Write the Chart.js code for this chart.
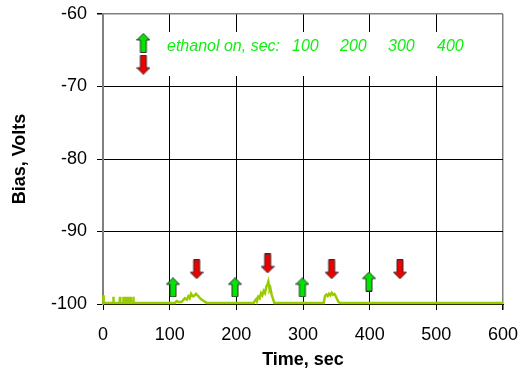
<!DOCTYPE html>
<html><head><meta charset="utf-8">
<script src="https://cdn.jsdelivr.net/npm/chart.js@4"></script>
<style>html,body{margin:0;padding:0;background:#fff}canvas{display:block}</style>
</head><body>
<canvas id="c" width="520" height="371"></canvas>
<script>
// ---- data ----
const timeSec = [0,1,15,15.5,16,25,25.5,26,30,30.5,31,34,34.5,35,37.5,38,38.5,41,41.5,42,45,45.5,46,
  108,110.5,114,118,121,123,126,128,130,132,134,135.5,137.5,139.5,141,143,145.5,148,150.5,155.5,
  226,228,230,231,233,235,237,239,241,243,245,247,248,249,250,251,253,255,257,
  331,333,335,337,339,341,343,345,347,349,351,353,355,600];
const biasVolts = [-98.8,-99.85,-99.85,-99.0,-99.85,-99.85,-99.0,-99.85,-99.85,-99.0,-99.85,-99.85,-99.0,-99.85,-99.85,-99.0,-99.85,-99.85,-99.0,-99.85,-99.85,-99.0,-99.85,
  -99.85,-99.6,-99.75,-99.7,-99.4,-99.2,-99.4,-98.95,-99.2,-98.6,-98.9,-98.95,-98.8,-98.6,-98.75,-98.9,-99.2,-99.4,-99.55,-99.85,
  -99.85,-99.5,-99.3,-99.6,-99.0,-99.2,-98.5,-98.8,-98.2,-98.5,-97.6,-97.2,-96.9,-97.5,-98.0,-97.8,-98.7,-99.3,-99.85,
  -99.85,-98.9,-98.7,-98.9,-98.6,-98.8,-98.45,-98.7,-98.6,-98.9,-99.3,-99.7,-99.85,-99.85];
const onTimes = [105,198,299,399];
const onLevels = [-97.7,-97.7,-97.7,-96.9];
const offTimes = [140.5,247,343,445.5];
const offLevels = [-95.2,-94.4,-95.2,-95.2];
const keyTimes = [60.5,60.5];
const keyLevels = [-64.0,-67.0];
const annotationLabel = 'ethanol on, sec:';
const annotationTimes = ['100','200','300','400'];
const xTicks = [0,100,200,300,400,500,600];
const yTicks = [-100,-90,-80,-70,-60];

// ---- arrow glyphs ----
function arrow(up, fill) {
  const w = 14, h = 20, c = document.createElement('canvas');
  c.width = w; c.height = h;
  const g = c.getContext('2d');
  g.beginPath();
  if (up) {
    g.moveTo(7,0.5); g.lineTo(13.5,7); g.lineTo(10,7); g.lineTo(10,19.5);
    g.lineTo(4,19.5); g.lineTo(4,7); g.lineTo(0.5,7); g.closePath();
  } else {
    g.moveTo(7,19.5); g.lineTo(13.5,13); g.lineTo(10,13); g.lineTo(10,0.5);
    g.lineTo(4,0.5); g.lineTo(4,13); g.lineTo(0.5,13); g.closePath();
  }
  g.fillStyle = fill; g.fill();
  g.lineWidth = 1; g.strokeStyle = '#303030'; g.stroke();
  return c;
}
const upArrow = arrow(true, '#00e600');
const downArrow = arrow(false, '#ee0000');

const pts = (xs, ys) => xs.map((x, i) => ({x, y: ys[i]}));

const boxPlugin = {
  id: 'box',
  beforeDatasetsDraw(chart) {
    const {ctx, chartArea: a} = chart;
    ctx.save();
    ctx.fillStyle = '#fff';
    ctx.fillRect(a.left + 31, a.top + 18, 347, 44);
    ctx.restore();
  },
  afterDraw(chart) {
    const {ctx, chartArea: a} = chart;
    ctx.save();
    ctx.fillStyle = '#11ee11';
    ctx.font = 'italic 16px "Liberation Sans", Arial, sans-serif';
    ctx.textBaseline = 'alphabetic';
    ctx.fillText(annotationLabel, a.left + 64, a.top + 37);
    const xs = [189, 237, 285, 334];
    annotationTimes.forEach((t, i) => ctx.fillText(t, a.left + xs[i], a.top + 37));
    ctx.restore();
  }
};

const FONT = '"Liberation Sans", Arial, sans-serif';
new Chart(document.getElementById('c'), {
  type: 'line',
  data: {
    datasets: [
      {data: pts(timeSec, biasVolts), borderColor: '#99cc00', borderWidth: 2.5, pointRadius: 0, tension: 0, fill: false, clip: false, order: 2},
      {type: 'scatter', data: pts(onTimes, onLevels), pointStyle: upArrow, pointRadius: 10, showLine: false, clip: false, order: 1},
      {type: 'scatter', data: pts(offTimes, offLevels), pointStyle: downArrow, pointRadius: 10, showLine: false, clip: false, order: 1},
      {type: 'scatter', data: [{x: keyTimes[0], y: keyLevels[0]}], pointStyle: upArrow, pointRadius: 10, showLine: false, clip: false, order: 1},
      {type: 'scatter', data: [{x: keyTimes[1], y: keyLevels[1]}], pointStyle: downArrow, pointRadius: 10, showLine: false, clip: false, order: 1}
    ]
  },
  options: {
    responsive: false,
    animation: false,
    events: [],
    layout: {padding: {left: 0, top: 14, right: 17, bottom: 0}},
    plugins: {legend: {display: false}, tooltip: {enabled: false}},
    scales: {
      x: {
        type: 'linear', min: 0, max: 600,
        afterBuildTicks: s => { s.ticks = xTicks.map(v => ({value: v})); },
        afterFit: s => { s.height = 67; s.paddingLeft = 0; s.paddingRight = 0; },
        grid: {
          color: c => c.tick && c.tick.value === 600 ? '#808080' : '#000',
          lineWidth: c => c.tick && c.tick.value === 600 ? 1.5 : 1,
          tickColor: '#000', tickLength: 6, drawTicks: true
        },
        border: {display: true, color: '#000', width: 1},
        ticks: {color: '#000', font: {family: FONT, size: 18}, padding: 14, maxRotation: 0},
        title: {display: true, text: 'Time, sec', color: '#000', font: {family: FONT, size: 18, weight: 'bold'}, padding: {top: 0, bottom: 0}}
      },
      y: {
        type: 'linear', min: -100, max: -60,
        afterBuildTicks: s => { s.ticks = yTicks.map(v => ({value: v})); },
        afterFit: s => { s.width = 103; s.paddingTop = 0; s.paddingBottom = 0; },
        grid: {
          color: c => c.tick && c.tick.value === -60 ? '#808080' : '#000',
          lineWidth: c => c.tick && c.tick.value === -60 ? 1.5 : 1,
          tickColor: '#000', tickLength: 6
        },
        border: {display: true, color: '#808080', width: 2},
        ticks: {color: '#000', font: {family: FONT, size: 18}, padding: 10},
        title: {display: true, text: 'Bias, Volts', color: '#000', font: {family: FONT, size: 18, weight: 'bold'}, padding: {top: 9, bottom: 0}}
      }
    }
  },
  plugins: [boxPlugin]
});
</script>
</body></html>
